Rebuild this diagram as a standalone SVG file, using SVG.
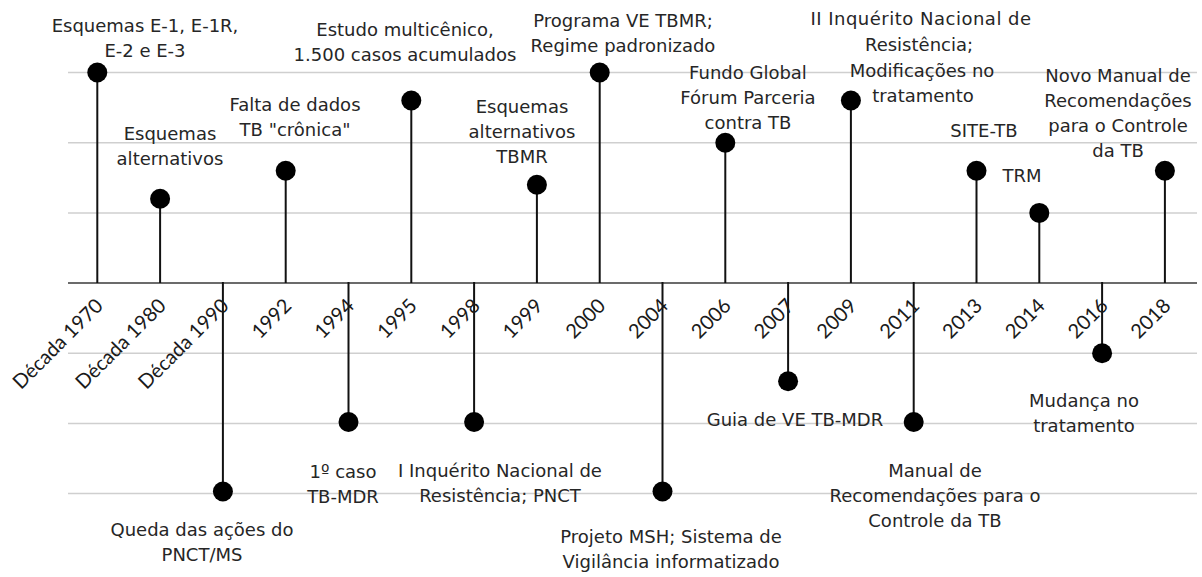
<svg xmlns="http://www.w3.org/2000/svg" width="1202" height="577" viewBox="0 0 1202 577">
<style>
.grid{stroke:#cfcfcf;stroke-width:1.5;fill:none}
.axis{stroke:#3a3a3a;stroke-width:1.5;fill:none}
.stem{stroke:#111;stroke-width:2;fill:none}
.dot{fill:#000}
.lbl{font-family:"DejaVu Sans",sans-serif;font-size:18px;fill:#262626;text-anchor:middle}
.yr{font-family:"Lato","Open Sans",sans-serif;font-size:20px;fill:#1a1a1a;text-anchor:end}
</style>
<rect width="1202" height="577" fill="#fff"/>
<g id="gridlines">
<line class="grid" x1="68" y1="72.5" x2="1197" y2="72.5"/>
<line class="grid" x1="68" y1="142.7" x2="1197" y2="142.7"/>
<line class="grid" x1="68" y1="212.9" x2="1197" y2="212.9"/>
<line class="grid" x1="68" y1="353.2" x2="1197" y2="353.2"/>
<line class="grid" x1="68" y1="423.4" x2="1197" y2="423.4"/>
<line class="grid" x1="68" y1="493.6" x2="1197" y2="493.6"/>
<line class="axis" x1="68" y1="283" x2="1197" y2="283"/>
</g>
<g id="connectors">
<line class="stem" x1="97.3" y1="72.5" x2="97.3" y2="283"/>
<line class="stem" x1="160.1" y1="198.8" x2="160.1" y2="283"/>
<line class="stem" x1="222.9" y1="282" x2="222.9" y2="493.6"/>
<line class="stem" x1="285.7" y1="170.7" x2="285.7" y2="283"/>
<line class="stem" x1="348.5" y1="282" x2="348.5" y2="423.4"/>
<line class="stem" x1="411.3" y1="100.5" x2="411.3" y2="283"/>
<line class="stem" x1="474.1" y1="282" x2="474.1" y2="423.4"/>
<line class="stem" x1="536.9" y1="184.7" x2="536.9" y2="283"/>
<line class="stem" x1="599.7" y1="72.5" x2="599.7" y2="283"/>
<line class="stem" x1="662.5" y1="282" x2="662.5" y2="493.6"/>
<line class="stem" x1="725.3" y1="142.7" x2="725.3" y2="283"/>
<line class="stem" x1="788.1" y1="282" x2="788.1" y2="381.3"/>
<line class="stem" x1="850.9" y1="100.5" x2="850.9" y2="283"/>
<line class="stem" x1="913.7" y1="282" x2="913.7" y2="423.4"/>
<line class="stem" x1="976.5" y1="170.7" x2="976.5" y2="283"/>
<line class="stem" x1="1039.3" y1="212.9" x2="1039.3" y2="283"/>
<line class="stem" x1="1102.1" y1="282" x2="1102.1" y2="353.2"/>
<line class="stem" x1="1164.9" y1="170.7" x2="1164.9" y2="283"/>
</g>
<g id="axis-labels">
<text class="yr" transform="translate(104.3,307) rotate(-45)">Década 1970</text>
<text class="yr" transform="translate(167.1,307) rotate(-45)">Década 1980</text>
<text class="yr" transform="translate(229.9,307) rotate(-45)">Década 1990</text>
<text class="yr" transform="translate(292.7,307) rotate(-45)">1992</text>
<text class="yr" transform="translate(355.5,307) rotate(-45)">1994</text>
<text class="yr" transform="translate(418.3,307) rotate(-45)">1995</text>
<text class="yr" transform="translate(481.1,307) rotate(-45)">1998</text>
<text class="yr" transform="translate(543.9,307) rotate(-45)">1999</text>
<text class="yr" transform="translate(606.7,307) rotate(-45)">2000</text>
<text class="yr" transform="translate(669.5,307) rotate(-45)">2004</text>
<text class="yr" transform="translate(732.3,307) rotate(-45)">2006</text>
<text class="yr" transform="translate(795.1,307) rotate(-45)">2007</text>
<text class="yr" transform="translate(857.9,307) rotate(-45)">2009</text>
<text class="yr" transform="translate(920.7,307) rotate(-45)">2011</text>
<text class="yr" transform="translate(983.5,307) rotate(-45)">2013</text>
<text class="yr" transform="translate(1046.3,307) rotate(-45)">2014</text>
<text class="yr" transform="translate(1109.1,307) rotate(-45)">2016</text>
<text class="yr" transform="translate(1171.9,307) rotate(-45)">2018</text>
</g>
<g id="n1970"><circle class="dot" cx="97.3" cy="72.5" r="10"/>
<text class="lbl" x="145" y="32">Esquemas E-1, E-1R,</text><text class="lbl" x="145" y="57">E-2 e E-3</text></g>
<g id="n1980"><circle class="dot" cx="160.1" cy="198.8" r="10"/>
<text class="lbl" x="170" y="140">Esquemas</text><text class="lbl" x="170" y="165">alternativos</text></g>
<g id="n1990"><circle class="dot" cx="222.9" cy="491.5" r="10"/>
<text class="lbl" x="202" y="536">Queda das ações do</text><text class="lbl" x="202" y="561">PNCT/MS</text></g>
<g id="n1992"><circle class="dot" cx="285.7" cy="170.7" r="10"/>
<text class="lbl" x="295" y="111">Falta de dados</text><text class="lbl" x="295" y="136">TB "crônica"</text></g>
<g id="n1994"><circle class="dot" cx="348.5" cy="422" r="10"/>
<text class="lbl" x="343" y="478">1º caso</text><text class="lbl" x="343" y="503">TB-MDR</text></g>
<g id="n1995"><circle class="dot" cx="411.3" cy="100.5" r="10"/>
<text class="lbl" x="405" y="36">Estudo multicênico,</text><text class="lbl" x="405" y="61">1.500 casos acumulados</text></g>
<g id="n1998"><circle class="dot" cx="474.1" cy="422" r="10"/>
<text class="lbl" x="500" y="477">I Inquérito Nacional de</text><text class="lbl" x="500" y="502">Resistência; PNCT</text></g>
<g id="n1999"><circle class="dot" cx="536.9" cy="184.7" r="10"/>
<text class="lbl" x="522" y="113">Esquemas</text><text class="lbl" x="522" y="138">alternativos</text><text class="lbl" x="522" y="163">TBMR</text></g>
<g id="n2000"><circle class="dot" cx="599.7" cy="72.5" r="10"/>
<text class="lbl" x="623" y="27">Programa VE TBMR;</text><text class="lbl" x="623" y="52">Regime padronizado</text></g>
<g id="n2004"><circle class="dot" cx="662.5" cy="491.5" r="10"/>
<text class="lbl" x="671" y="543">Projeto MSH; Sistema de</text><text class="lbl" x="671" y="568">Vigilância informatizado</text></g>
<g id="n2006"><circle class="dot" cx="725.3" cy="142.7" r="10"/>
<text class="lbl" x="748" y="79">Fundo Global</text><text class="lbl" x="748" y="104">Fórum Parceria</text><text class="lbl" x="748" y="129">contra TB</text></g>
<g id="n2007"><circle class="dot" cx="788.1" cy="381.3" r="10"/>
<text class="lbl" x="795" y="426">Guia de VE TB-MDR</text></g>
<g id="n2009"><circle class="dot" cx="850.9" cy="100.5" r="10"/>
<text class="lbl" x="921" y="25" letter-spacing="0.5">II Inquérito Nacional de</text><text class="lbl" x="919" y="51">Resistência;</text><text class="lbl" x="922" y="77">Modificações no</text><text class="lbl" x="923" y="102">tratamento</text></g>
<g id="n2011"><circle class="dot" cx="913.7" cy="422" r="10"/>
<text class="lbl" x="935" y="477">Manual de</text><text class="lbl" x="935" y="502">Recomendações para o</text><text class="lbl" x="935" y="527">Controle da TB</text></g>
<g id="n2013"><circle class="dot" cx="976.5" cy="170.7" r="10"/>
<text class="lbl" x="984" y="137">SITE-TB</text></g>
<g id="n2014"><circle class="dot" cx="1039.3" cy="212.9" r="10"/>
<text class="lbl" x="1022" y="182">TRM</text></g>
<g id="n2016"><circle class="dot" cx="1102.1" cy="353.2" r="10"/>
<text class="lbl" x="1084" y="407">Mudança no</text><text class="lbl" x="1084" y="432">tratamento</text></g>
<g id="n2018"><circle class="dot" cx="1164.9" cy="170.7" r="10"/>
<text class="lbl" x="1118" y="82">Novo Manual de</text><text class="lbl" x="1118" y="107">Recomendações</text><text class="lbl" x="1118" y="132">para o Controle</text><text class="lbl" x="1118" y="157">da TB</text></g>
</svg>
